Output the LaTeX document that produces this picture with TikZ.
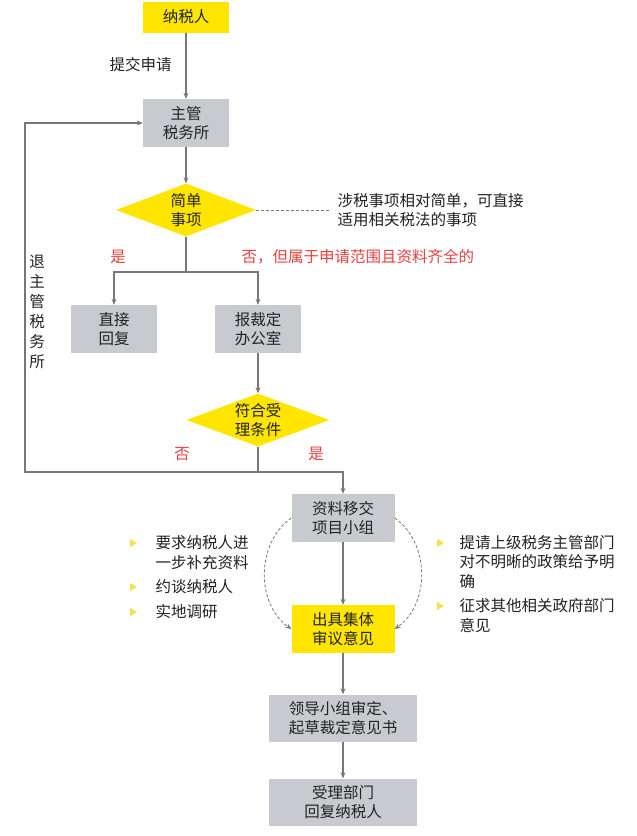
\documentclass[tikz,border=0pt]{standalone}
\usepackage{fontspec}
\newfontfamily\cjk{Noto Sans CJK SC}
\usetikzlibrary{arrows.meta,shapes.geometric}
\definecolor{amarillo}{HTML}{FFE500}
\definecolor{gris}{HTML}{C9CACF}
\definecolor{linea}{HTML}{777777}
\definecolor{rojo}{HTML}{E5413F}
\definecolor{texto}{HTML}{222222}
\definecolor{vineta}{HTML}{F3E14B}

\begin{document}
\begin{tikzpicture}[x=1pt, y=-1pt,
    every node/.style={font=\cjk\fontsize{15.5}{19.5}\selectfont, text=texto},
    caja/.style={fill=gris, minimum width=86pt, minimum height=48pt, align=center, inner sep=0pt},
    cajaam/.style={caja, fill=amarillo},
    rombo/.style={diamond, fill=amarillo, aspect=2.6, inner sep=0pt, minimum width=140pt, minimum height=53pt, align=center},
    flecha/.style={draw=linea, line width=1.1pt, -{Stealth[length=6pt, width=5pt]}},
    curva/.style={draw=linea, line width=0.8pt, dash pattern=on 3pt off 2pt, -{Stealth[length=6pt, width=5pt]}},
    rotulo/.style={text=rojo}]

    % Fondo y margenes
    \fill[white] (0,0) rectangle (637,836);

    % Cajas principales
    \node[cajaam, minimum height=31pt] (contribuyente) at (186,17) {纳税人};
    \node[caja] (oficina) at (186,123) {主管\\税务所};
    \node[rombo] (simple) at (186,210) {简单\\事项};
    \node[caja] (directo) at (114,329) {直接\\回复};
    \node[caja] (informe) at (258,329) {报裁定\\办公室};
    \node[rombo, minimum width=143pt] (acepta) at (258,420) {符合受\\理条件};
    \node[caja, minimum width=103pt] (traslado) at (343,518) {资料移交\\项目小组};
    \node[cajaam, minimum width=103pt] (dictamen) at (343,629) {出具集体\\审议意见};
    \node[caja, minimum width=148pt, minimum height=47pt, align=left] (revision) at (343,718) {领导小组审定、\\起草裁定意见书};
    \node[caja, minimum width=148pt, minimum height=47pt] (respuesta) at (343,802) {受理部门\\回复纳税人};

    % Puntos auxiliares
    \coordinate (reparto) at (186,272);
    \coordinate (horq) at (258,472);
    \coordinate (esquina) at (25,472);
    \coordinate (finnota) at (331,210);

    % Flechas
    \draw[flecha] (contribuyente) -- (oficina);
    \node[anchor=west] (solicitud) at (106,65) {提交申请};
    \draw[flecha] (oficina) -- (simple);
    \draw[draw=linea, line width=1.1pt] (simple.south) -- (reparto);
    \draw[flecha] (reparto) -| (directo.north);
    \draw[flecha] (reparto) -| (informe.north);
    \draw[flecha] (informe) -- (acepta);
    \draw[draw=linea, line width=1.1pt] (acepta.south) -- (horq);
    \draw[flecha] (horq) -- (esquina) |- (oficina.west);
    \draw[flecha] (horq) -| (traslado.north);
    \draw[flecha] (traslado) -- (dictamen);
    \draw[flecha] (dictamen) -- (revision);
    \draw[flecha] (revision) -- (respuesta);

    % Curvas punteadas
    \draw[curva] (traslado.west) to[out=215, in=145] (dictamen.west);
    \draw[curva] (traslado.east) to[out=-35, in=35] (dictamen.east);

    % Nota del rombo
    \draw[draw=linea, line width=0.8pt, dash pattern=on 3pt off 2pt] (simple.east) -- (finnota);
    \node[anchor=west, align=left] (nota) at (334,210) {涉税事项相对简单，可直接\\适用相关税法的事项};

    % Rotulos en rojo
    \node[rotulo] (si1) at (118,257) {是};
    \node[rotulo, anchor=west] (no1) at (238,257) {否，但属于申请范围且资料齐全的};
    \node[rotulo] (no2) at (182,454) {否};
    \node[rotulo] (si2) at (316,454) {是};

    % Texto vertical
    \node[align=center, font=\cjk\fontsize{15.5}{20}\selectfont] (regreso) at (37,312) {退\\主\\管\\税\\务\\所};

    % Listas con vinetas
    \node[anchor=west, align=left] (pedir) at (152,552.5) {要求纳税人进\\一步补充资料};
    \node[anchor=west] (entrevistar) at (152,587) {约谈纳税人};
    \node[anchor=west] (investigar) at (152,612) {实地调研};
    \node[anchor=west, align=left] (elevar) at (456,562) {提请上级税务主管部门\\对不明晰的政策给予明\\确};
    \node[anchor=west, align=left] (consultar) at (456,615.5) {征求其他相关政府部门\\意见};
    \foreach \bx/\by in {133/543, 133/587, 133/612, 440/543, 440/606}
        \fill[vineta] (\bx-3,\by-4) -- (\bx+4,\by) -- (\bx-3,\by+4) -- cycle;
\end{tikzpicture}
\end{document}
